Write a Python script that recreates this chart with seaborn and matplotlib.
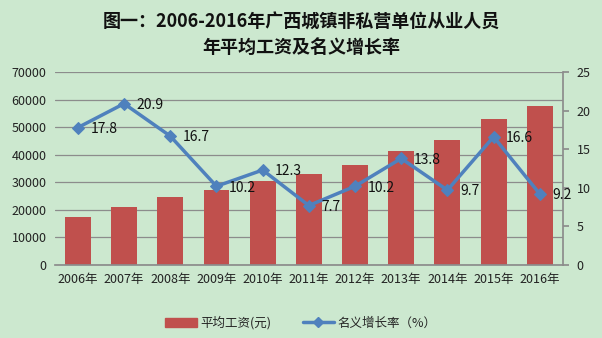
import matplotlib
matplotlib.use("Agg")
import matplotlib.pyplot as plt
import seaborn as sns
import pandas as pd
from matplotlib.lines import Line2D
from matplotlib.patches import Patch

years = ["2006年", "2007年", "2008年", "2009年", "2010年", "2011年",
         "2012年", "2013年", "2014年", "2015年", "2016年"]
wages = [17400, 21000, 24600, 27200, 30400, 33000, 36200, 41400, 45300, 52900, 57700]
growth = [17.8, 20.9, 16.7, 10.2, 12.3, 7.7, 10.2, 13.8, 9.7, 16.6, 9.2]

sns.set_theme(style="white")
plt.rcParams['font.family'] = ['Noto Sans CJK SC', 'DejaVu Sans']

bg = "#CCE8CF"
fig = plt.figure(figsize=(6.02, 3.38), dpi=100, facecolor=bg)
ax = fig.add_axes([0.091, 0.216, 0.844, 0.571])
ax.set_facecolor(bg)

df = pd.DataFrame({"year": years, "wage": wages, "growth": growth})
sns.barplot(data=df, x="year", y="wage", color="#C0504D", saturation=1,
            width=0.56, ax=ax, zorder=2, edgecolor="none", linewidth=0)
ax.set_ylim(0, 70000)
ax.set_yticks(range(0, 70001, 10000))
ax.yaxis.grid(True, color="#8C8C8C", linewidth=0.9, zorder=0)
ax.set_axisbelow(True)
ax.set_xlabel("")
ax.set_ylabel("")
for s in ["top", "left", "right"]:
    ax.spines[s].set_visible(False)
ax.spines["bottom"].set_color("#8C8C8C")
ax.tick_params(axis="both", labelsize=9, length=0, pad=6, colors="#222222")
ax.set_xlim(-0.5, len(years) - 0.5)

ax2 = ax.twinx()
sns.lineplot(x=list(range(len(years))), y=growth, ax=ax2, color="#4F81BD",
             linewidth=2.5, marker="D", markersize=6, markeredgecolor="#4F81BD",
             zorder=3)
ax2.set_ylim(0, 25)
ax2.set_yticks(range(0, 26, 5))
for s in ["top", "left", "bottom"]:
    ax2.spines[s].set_visible(False)
ax2.spines["right"].set_color("#8C8C8C")
ax2.tick_params(axis="y", labelsize=9, length=4, direction="out", colors="#222222",
                pad=6)
ax2.tick_params(axis="y", color="#8C8C8C")
ax2.grid(False)
for i, v in enumerate(growth):
    ax2.annotate(f"{v}", (i, v), xytext=(9, -1), textcoords="offset points",
                 ha="left", va="center", fontsize=10, color="#111111")

fig.text(0.5, 0.935, "图一：2006-2016年广西城镇非私营单位从业人员",
         ha="center", va="center", fontsize=13, fontweight="bold", color="#111111")
fig.text(0.5, 0.86, "年平均工资及名义增长率",
         ha="center", va="center", fontsize=13, fontweight="bold", color="#111111")

handles = [Patch(color="#C0504D"),
           Line2D([0], [0], color="#4F81BD", linewidth=2.5, marker="D", markersize=5)]
fig.legend(handles, ["平均工资(元)", "名义增长率（%）"], loc="center",
           bbox_to_anchor=(0.5, 0.045), ncol=2, frameon=False, fontsize=9,
           handlelength=2.5, columnspacing=2.5, handletextpad=0.3)

fig.savefig("out.png", dpi=100, facecolor=bg)
